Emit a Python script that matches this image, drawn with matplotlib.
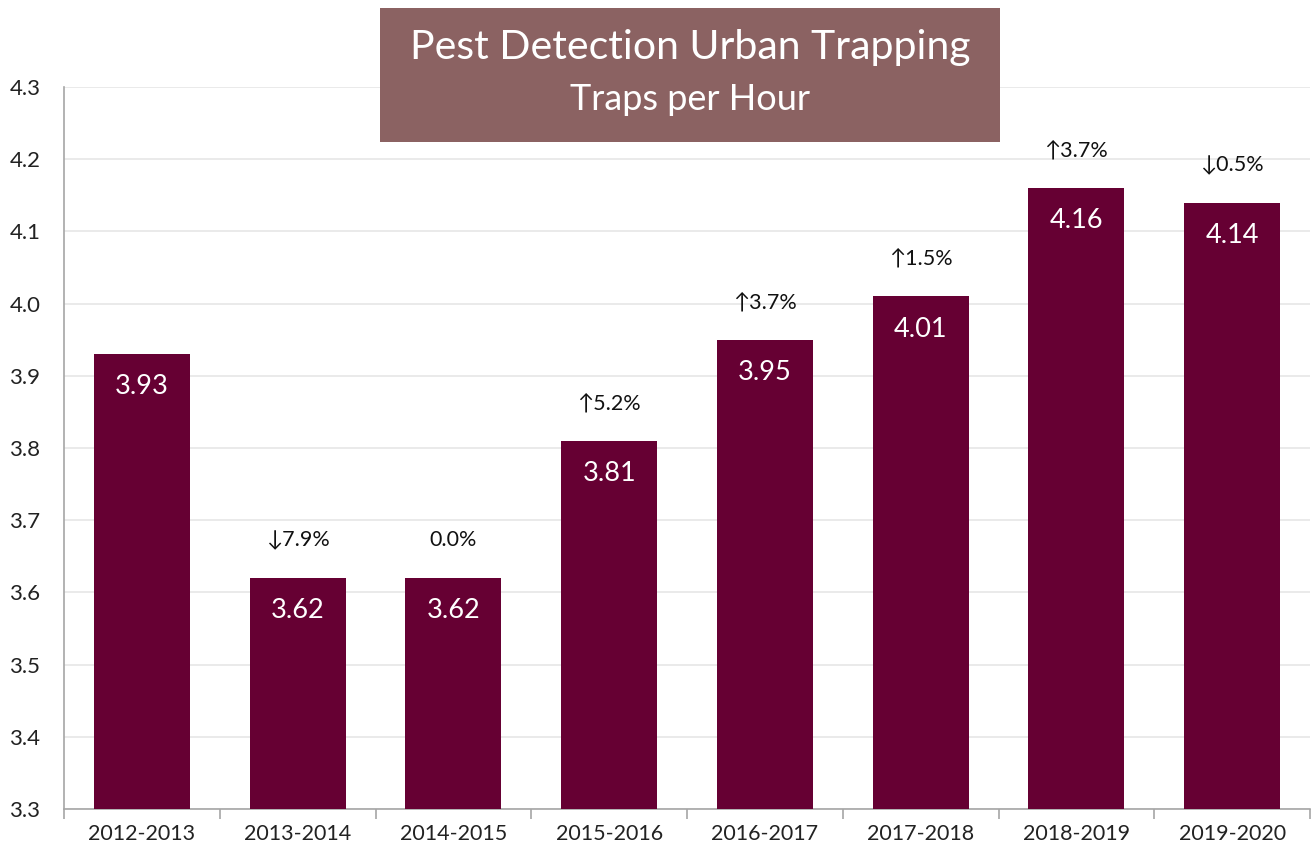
import matplotlib
matplotlib.use("Agg")
import matplotlib.pyplot as plt
import numpy as np
from matplotlib.patches import Rectangle

plt.rcParams['font.family'] = ['Lato', 'DejaVu Sans']

categories = ["2012-2013", "2013-2014", "2014-2015", "2015-2016",
              "2016-2017", "2017-2018", "2018-2019", "2019-2020"]
values = [3.93, 3.62, 3.62, 3.81, 3.95, 4.01, 4.16, 4.14]
changes = ["", "↓7.9%", "0.0%", "↑5.2%", "↑3.7%", "↑1.5%", "↑3.7%", "↓0.5%"]
yticks = [3.3, 3.4, 3.5, 3.6, 3.7, 3.8, 3.9, 4.0, 4.1, 4.2, 4.3]

bar_color = "#660033"
title_bg = "#8B6262"

fig = plt.figure(figsize=(13.12, 8.52), dpi=100)
ax = fig.add_axes([64/1312, 1 - 809/852, (1310 - 64)/1312, (809 - 87)/852])

x = np.arange(len(categories))
bars = ax.bar(x, values, width=0.615, color=bar_color, zorder=3)

ax.set_ylim(3.3, 4.3)
ax.set_xlim(-0.5, len(categories) - 0.5)
ax.set_yticks(yticks)
ax.set_yticklabels([f"{v:.1f}" for v in yticks], fontsize=16, color="#222222")
ax.tick_params(axis='y', length=0, pad=17)

ax.set_xticks(x)
ax.set_xticklabels(categories, fontsize=15.5, color="#222222")
ax.tick_params(axis='x', which='major', length=0, pad=11)
ax.set_xticks(np.arange(-0.5, len(categories)), minor=True)
ax.tick_params(axis='x', which='minor', length=7, color="#a6a6a6", width=1.2)

ax.grid(axis='y', color="#e6e6e6", linewidth=1.2, zorder=0)
for s in ['top', 'right']:
    ax.spines[s].set_visible(False)
for s in ['left', 'bottom']:
    ax.spines[s].set_color("#a6a6a6")
    ax.spines[s].set_linewidth(1.2)

for xi, v, c in zip(x, values, changes):
    ax.annotate(f"{v:.2f}", (xi, v), xytext=(0, -23.5), textcoords="offset points",
                ha='center', va='center', color='white', fontsize=19.5, zorder=4)
    if c:
        ax.annotate(c, (xi, v), xytext=(0, 27), textcoords="offset points",
                    ha='center', va='center', color='#111111', fontsize=15.5, zorder=4)

# Title box
fig.patches.append(Rectangle((380/1312, 1 - 142/852), 620/1312, 134/852,
                             transform=fig.transFigure, facecolor=title_bg,
                             edgecolor='none', zorder=5))
fig.text(690/1312, 1 - 48/852, "Pest Detection Urban Trapping", ha='center', va='center',
         color='white', fontsize=29.5, zorder=6)
fig.text(690/1312, 1 - 100/852, "Traps per Hour", ha='center', va='center',
         color='white', fontsize=26, zorder=6)

fig.savefig("out.png", dpi=100)
